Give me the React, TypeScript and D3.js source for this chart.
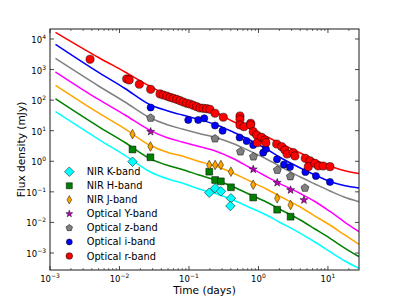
import React from "react";
import * as d3 from "d3";

const W = 399;
const H = 301;
const PL = 50, PT = 29, PR = 359, PB = 270;

// axis domains & ticks
const X_DOMAIN = [1e-3, 28];
const Y_DOMAIN = [2.78e-4, 2.12e4];
const X_TICKS = [1e-3, 1e-2, 1e-1, 1, 10];
const X_TICK_EXP = ["\u22123", "\u22122", "\u22121", "0", "1"];
const Y_TICKS = [1e-3, 1e-2, 1e-1, 1, 10, 100, 1000, 10000];
const Y_TICK_EXP = ["\u22123", "\u22122", "\u22121", "0", "1", "2", "3", "4"];

// model curves (sampled times, days) and flux per band (mJy)
const curveT = [0.0012, 0.005, 0.012, 0.027, 0.05, 0.08, 0.14, 0.24, 0.43, 0.75, 1.3, 2.0, 4.0, 6.5, 10.7, 17, 28];
const curveR = [16560, 2483, 832, 290, 142, 97.3, 61.9, 40.9, 20.0, 11.8, 6.47, 3.96, 1.87, 1.10, 0.701, 0.499, 0.398];
const curveI = [6607, 802, 240, 72.0, 44.2, 32.6, 23.3, 16.0, 9.07, 4.97, 2.52, 1.38, 0.603, 0.356, 0.218, 0.161, 0.134];
const curveZ = [2302, 290, 86.9, 27.0, 15.4, 11.4, 8.11, 6.0, 3.82, 2.17, 1.19, 0.701, 0.306, 0.181, 0.107, 0.0678, 0.0476];
const curveY = [832, 105, 32.6, 10.5, 5.77, 4.27, 3.04, 2.17, 1.23, 0.626, 0.318, 0.190, 0.0883, 0.0484, 0.0228, 0.0107, 0.00497];
const curveJ = [306, 38.0, 11.4, 3.41, 1.94, 1.49, 0.984, 0.701, 0.414, 0.226, 0.124, 0.0731, 0.0319, 0.0162, 0.00824, 0.00403, 0.00192];
const curveH = [111, 13.7, 4.11, 1.25, 0.728, 0.538, 0.356, 0.244, 0.147, 0.0818, 0.0465, 0.0275, 0.0120, 0.00609, 0.00302, 0.00151, 0.000756];
const curveK = [41.9, 5.24, 1.55, 0.463, 0.263, 0.195, 0.124, 0.0883, 0.0541, 0.0308, 0.0175, 0.0103, 0.00441, 0.00229, 0.00110, 0.000568, 0.000316];

// observed points
const rT = [0.00377, 0.0127, 0.0138, 0.0193, 0.0281, 0.0383, 0.0427, 0.0478, 0.0533, 0.0594, 0.0665, 0.0743, 0.0828, 0.0927, 0.103, 0.115, 0.129, 0.144, 0.161, 0.180, 0.200, 0.237, 0.312, 0.542, 0.542, 0.542, 0.618, 0.773, 0.773, 0.841, 0.942, 0.962, 1.11, 1.24, 1.28, 1.83, 2.16, 2.40, 2.59, 3.17, 3.35, 4.71, 5.51, 5.21, 6.50, 7.26, 8.57, 10.7];
const rF = [2168, 492, 456, 330, 226, 159, 147, 136, 124, 115, 106, 95.9, 86.9, 78.9, 74.8, 67.8, 61.0, 55.3, 54.1, 52.5, 50.1, 37.2, 27.5, 30.3, 23.6, 15.4, 13.5, 17.5, 15.4, 9.29, 7.24, 4.06, 6.10, 4.97, 4.06, 3.67, 3.00, 2.34, 1.73, 1.91, 1.49, 1.25, 1.04, 0.665, 0.859, 0.701, 0.701, 0.665];
const iT = [0.0281, 0.0977, 0.136, 0.166, 0.237, 0.305, 0.536, 0.676, 0.841, 1.17, 1.28, 1.85, 2.33, 2.84, 4.74, 6.71, 10.7];
const iF = [57.4, 22.4, 22.4, 25.5, 14.8, 10.0, 6.00, 4.60, 3.41, 1.91, 2.52, 1.16, 0.785, 0.650, 0.446, 0.330, 0.210];
const zT = [0.0281, 0.237, 0.551, 0.847, 1.87, 2.88, 4.67];
const zF = [26.1, 5.48, 2.06, 1.41, 0.519, 0.318, 0.134];
const yT = [0.0281, 0.841, 1.86, 2.90, 4.52];
const yF = [9.29, 0.547, 0.199, 0.115, 0.0541];
const jT = [0.0154, 0.0279, 0.196, 0.238, 0.288, 0.402, 0.841, 1.86, 2.90];
const jF = [7.69, 3.04, 0.755, 0.755, 0.755, 0.456, 0.171, 0.0615, 0.0372];
const hT = [0.0154, 0.0279, 0.196, 0.238, 0.288, 0.402, 0.841, 1.86, 2.90];
const hF = [2.43, 1.35, 0.456, 0.244, 0.221, 0.141, 0.0653, 0.0261, 0.0154];
const kT = [0.0154, 0.196, 0.238, 0.288, 0.402, 0.395];
const kF = [0.968, 0.0938, 0.131, 0.104, 0.0615, 0.0344];

const legendLabels = ["NIR K-band", "NIR H-band", "NIR J-band", "Optical Y-band", "Optical z-band", "Optical i-band", "Optical r-band"];

type Kind = "circle" | "square" | "diamond" | "thin" | "star" | "pentagon";

function markerPath(kind: Kind, s: number): string {
  if (kind === "circle") return d3.symbol(d3.symbolCircle, Math.PI * s * s)() as string;
  if (kind === "square") return `M${-s},${-s}H${s}V${s}H${-s}Z`;
  if (kind === "diamond") return `M0,${-s}L${s},0L0,${s}L${-s},0Z`;
  if (kind === "thin") return `M0,${-s}L${s * 0.55},0L0,${s}L${-s * 0.55},0Z`;
  const pts: [number, number][] = [];
  if (kind === "star") {
    for (let k = 0; k < 10; k++) {
      const a = -Math.PI / 2 + (k * Math.PI) / 5;
      const rr = k % 2 === 0 ? s : s * 0.4;
      pts.push([rr * Math.cos(a), rr * Math.sin(a)]);
    }
  } else {
    for (let k = 0; k < 5; k++) {
      const a = -Math.PI / 2 + (k * 2 * Math.PI) / 5;
      pts.push([s * Math.cos(a), s * Math.sin(a)]);
    }
  }
  return "M" + pts.map((p) => `${p[0].toFixed(2)},${p[1].toFixed(2)}`).join("L") + "Z";
}

const bands = [
  { label: legendLabels[0], color: "#00ffff", kind: "diamond" as Kind, size: 4.8, lsize: 4.8, t: kT, f: kF, curve: curveK },
  { label: legendLabels[1], color: "#008000", kind: "square" as Kind, size: 3.4, lsize: 3.0, t: hT, f: hF, curve: curveH },
  { label: legendLabels[2], color: "#ffa500", kind: "thin" as Kind, size: 4.8, lsize: 4.2, t: jT, f: jF, curve: curveJ },
  { label: legendLabels[3], color: "#bf00bf", kind: "star" as Kind, size: 4.2, lsize: 3.6, t: yT, f: yF, curve: curveY },
  { label: legendLabels[4], color: "#808080", kind: "pentagon" as Kind, size: 4.2, lsize: 3.4, t: zT, f: zF, curve: curveZ },
  { label: legendLabels[5], color: "#0000ff", kind: "circle" as Kind, size: 3.6, lsize: 3.0, t: iT, f: iF, curve: curveI },
  { label: legendLabels[6], color: "#ff0000", kind: "circle" as Kind, size: 4.1, lsize: 3.3, t: rT, f: rF, curve: curveR },
];
const lineColors = ["#00ffff", "#008000", "#ffa500", "#ff00ff", "#808080", "#0000ff", "#ff0000"];

export default function App() {
  const x = d3.scaleLog().domain(X_DOMAIN).range([PL, PR]);
  const y = d3.scaleLog().domain(Y_DOMAIN).range([PB, PT]);
  const line = d3
    .line<number>()
    .x((_, i) => x(curveT[i]))
    .y((d) => y(d))
    .curve(d3.curveMonotoneX);

  const minorX: number[] = [];
  for (let e = -3; e <= 1; e++) {
    for (let m = 2; m <= 9; m++) {
      const v = m * Math.pow(10, e);
      if (v <= X_DOMAIN[1]) minorX.push(v);
    }
  }
  const font = "'DejaVu Sans', sans-serif";
  const axisColor = "#1a1a1a";

  return (
    <svg width={W} height={H} style={{ position: "absolute", left: 0, top: 0, background: "#fff" }} fontFamily={font}>
      <defs>
        <clipPath id="plotclip">
          <rect x={PL} y={PT} width={PR - PL} height={PB - PT} />
        </clipPath>
      </defs>
      <g clipPath="url(#plotclip)">
        {bands.map((b, i) => (
          <path key={"l" + i} d={line(b.curve) as string} fill="none" stroke={lineColors[i]} strokeWidth={1.5} />
        ))}
        {bands.map((b, i) => (
          <g key={"p" + i}>
            {b.t.map((t, j) => (
              <path
                key={j}
                d={markerPath(b.kind, b.size)}
                transform={`translate(${x(t)},${y(b.f[j])})`}
                fill={b.color}
                stroke="#000"
                strokeWidth={0.5}
              />
            ))}
          </g>
        ))}
      </g>
      {/* frame */}
      <rect x={PL} y={PT} width={PR - PL} height={PB - PT} fill="none" stroke={axisColor} strokeWidth={1} />
      {/* x ticks */}
      {X_TICKS.map((t, i) => (
        <g key={"xt" + i}>
          <line x1={x(t)} x2={x(t)} y1={PB} y2={PB - 4} stroke={axisColor} strokeWidth={0.8} />
          <line x1={x(t)} x2={x(t)} y1={PT} y2={PT + 4} stroke={axisColor} strokeWidth={0.8} />
          <text x={x(t)} y={282} textAnchor="middle" fontSize={8.5} fill="#000">
            10<tspan dy={-4} fontSize={6}>{X_TICK_EXP[i]}</tspan>
          </text>
        </g>
      ))}
      {minorX.map((t, i) => (
        <g key={"xm" + i}>
          <line x1={x(t)} x2={x(t)} y1={PB} y2={PB - 2} stroke={axisColor} strokeWidth={0.6} />
          <line x1={x(t)} x2={x(t)} y1={PT} y2={PT + 2} stroke={axisColor} strokeWidth={0.6} />
        </g>
      ))}
      {/* y ticks */}
      {Y_TICKS.map((t, i) => (
        <g key={"yt" + i}>
          <line x1={PL} x2={PL + 4} y1={y(t)} y2={y(t)} stroke={axisColor} strokeWidth={0.8} />
          <line x1={PR} x2={PR - 4} y1={y(t)} y2={y(t)} stroke={axisColor} strokeWidth={0.8} />
          <text x={46} y={y(t) + 4} textAnchor="end" fontSize={8.5} fill="#000">
            10<tspan dy={-4} fontSize={6}>{Y_TICK_EXP[i]}</tspan>
          </text>
        </g>
      ))}
      {/* axis labels */}
      <text x={(PL + PR) / 2} y={294} textAnchor="middle" fontSize={10.6} fill="#000">
        Time (days)
      </text>
      <text transform={`translate(25,${(PT + PB) / 2}) rotate(-90)`} textAnchor="middle" fontSize={10.6} fill="#000">
        Flux density (mJy)
      </text>
      {/* legend */}
      {bands.map((b, i) => {
        const ly = 171.7 + i * 14.05;
        return (
          <g key={"lg" + i}>
            <path d={markerPath(b.kind, b.lsize)} transform={`translate(69.3,${ly})`} fill={b.color} stroke="#000" strokeWidth={0.5} />
            <text x={86.7} y={ly + 3.5} fontSize={9.8} fill="#000">
              {b.label}
            </text>
          </g>
        );
      })}
    </svg>
  );
}
